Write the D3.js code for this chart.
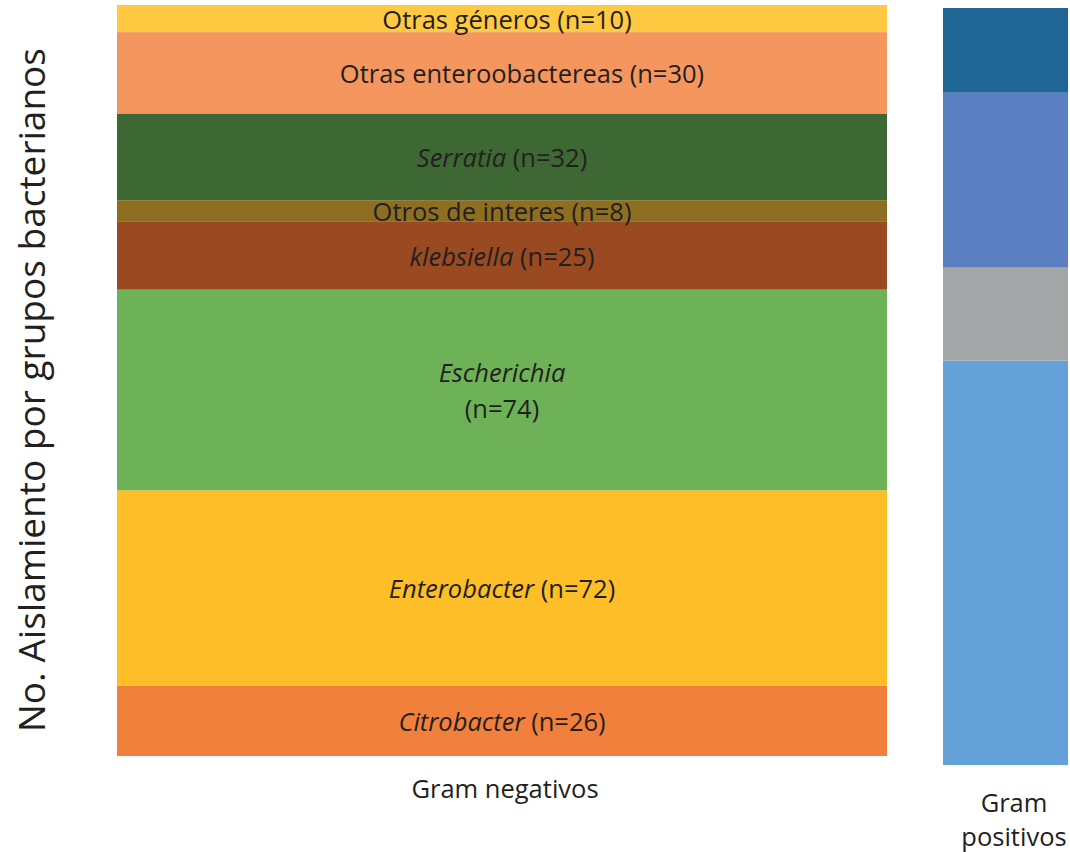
<!DOCTYPE html>
<html>
<head>
<meta charset="utf-8">
<script src="https://cdn.jsdelivr.net/npm/d3@7"></script>
<style>
  html, body { margin: 0; padding: 0; background: #fff; }
  svg { display: block; }
  text { font-family: "Open Sans", "Noto Sans", sans-serif; fill: #231F20; }
</style>
</head>
<body>
<svg id="chart" width="1070" height="852"></svg>
<script>
// Gram-negative groups, stacked bottom to top
const negNames  = ["Citrobacter", "Enterobacter", "Escherichia", "klebsiella",
                   "Otros de interes", "Serratia", "Otras enteroobactereas", "Otras géneros"];
const negValues = [26, 72, 74, 25, 8, 32, 30, 10];
const negItalic = [true, true, true, true, false, true, false, false];
const negColors = ["#F0803B", "#FDBE28", "#6EB257", "#9A4A20",
                   "#8E6E21", "#3E6833", "#F5965F", "#FFC942"];

// Gram-positive groups, stacked bottom to top (unlabelled)
const posNames  = ["g1", "g2", "g3", "g4"];
const posValues = [148, 34, 64, 31];
const posColors = ["#64A1D8", "#A3A6A7", "#5A80C2", "#1F6596"];

const columnLabels = ["Gram negativos", "Gram positivos"];
const yTitle = "No. Aislamiento por grupos bacterianos";

const svg = d3.select("#chart");

function stackRows(names, values) {
  let acc = 0;
  return names.map((n, i) => {
    const r = { name: n, value: values[i], y0: acc, y1: acc + values[i], i };
    acc += values[i];
    return r;
  });
}

const negRows = stackRows(negNames, negValues);
const posRows = stackRows(posNames, posValues);
const negTotal = d3.sum(negValues);
const posTotal = d3.sum(posValues);

// column widths differ, so each column gets its own horizontal extent
const xNeg = d3.scaleLinear().domain([0, 1]).range([117, 887]);
const xPos = d3.scaleLinear().domain([0, 1]).range([943, 1068]);

const yNeg = d3.scaleLinear().domain([0, negTotal]).range([756, 5]);
const yPos = d3.scaleLinear().domain([0, posTotal]).range([765, 8]);

// negative bar
svg.append("g").selectAll("rect").data(negRows).join("rect")
  .attr("x", xNeg(0))
  .attr("width", xNeg(1) - xNeg(0))
  .attr("y", d => yNeg(d.y1))
  .attr("height", d => yNeg(d.y0) - yNeg(d.y1))
  .attr("fill", d => negColors[d.i]);

// positive bar
svg.append("g").selectAll("rect").data(posRows).join("rect")
  .attr("x", xPos(0))
  .attr("width", xPos(1) - xPos(0))
  .attr("y", d => yPos(d.y1))
  .attr("height", d => yPos(d.y0) - yPos(d.y1))
  .attr("fill", d => posColors[d.i]);

// segment labels (small horizontal nudges for a couple of labels)
const cx = (xNeg(0) + xNeg(1)) / 2;
const labelNudge = { "Otras enteroobactereas": 20, "Otras géneros": 5 };
const fs = 25.5;
const labels = svg.append("g").attr("font-size", fs).attr("text-anchor", "middle");
negRows.forEach(d => {
  const mid = (yNeg(d.y0) + yNeg(d.y1)) / 2;
  const lx = cx + (labelNudge[d.name] || 0);
  const t = labels.append("text").attr("x", lx).attr("dominant-baseline", "central");
  if (d.name === "Escherichia") {
    t.attr("y", mid - 18);
    t.append("tspan").attr("font-style", "italic").text(d.name);
    t.append("tspan").attr("x", lx).attr("dy", 36).text(`(n=${d.value})`);
  } else {
    t.attr("y", mid);
    t.append("tspan").attr("font-style", negItalic[d.i] ? "italic" : "normal").text(d.name);
    t.append("tspan").text(` (n=${d.value})`);
  }
});

// column labels
svg.append("text").attr("x", cx + 3).attr("y", 788)
  .attr("text-anchor", "middle").attr("dominant-baseline", "central")
  .attr("font-size", 25.5).text(columnLabels[0]);

const pcx = 1014;
const words = columnLabels[1].split(" ");
svg.append("text").attr("x", pcx).attr("y", 802)
  .attr("text-anchor", "middle").attr("dominant-baseline", "central")
  .attr("font-size", 25.5)
  .selectAll("tspan").data(words).join("tspan")
  .attr("x", pcx).attr("dy", (w, i) => i === 0 ? 0 : 34).text(w => w);

// y axis title
svg.append("text")
  .attr("transform", "translate(30,390) rotate(-90)")
  .attr("text-anchor", "middle").attr("dominant-baseline", "central")
  .attr("font-size", 37).text(yTitle);
</script>
</body>
</html>
